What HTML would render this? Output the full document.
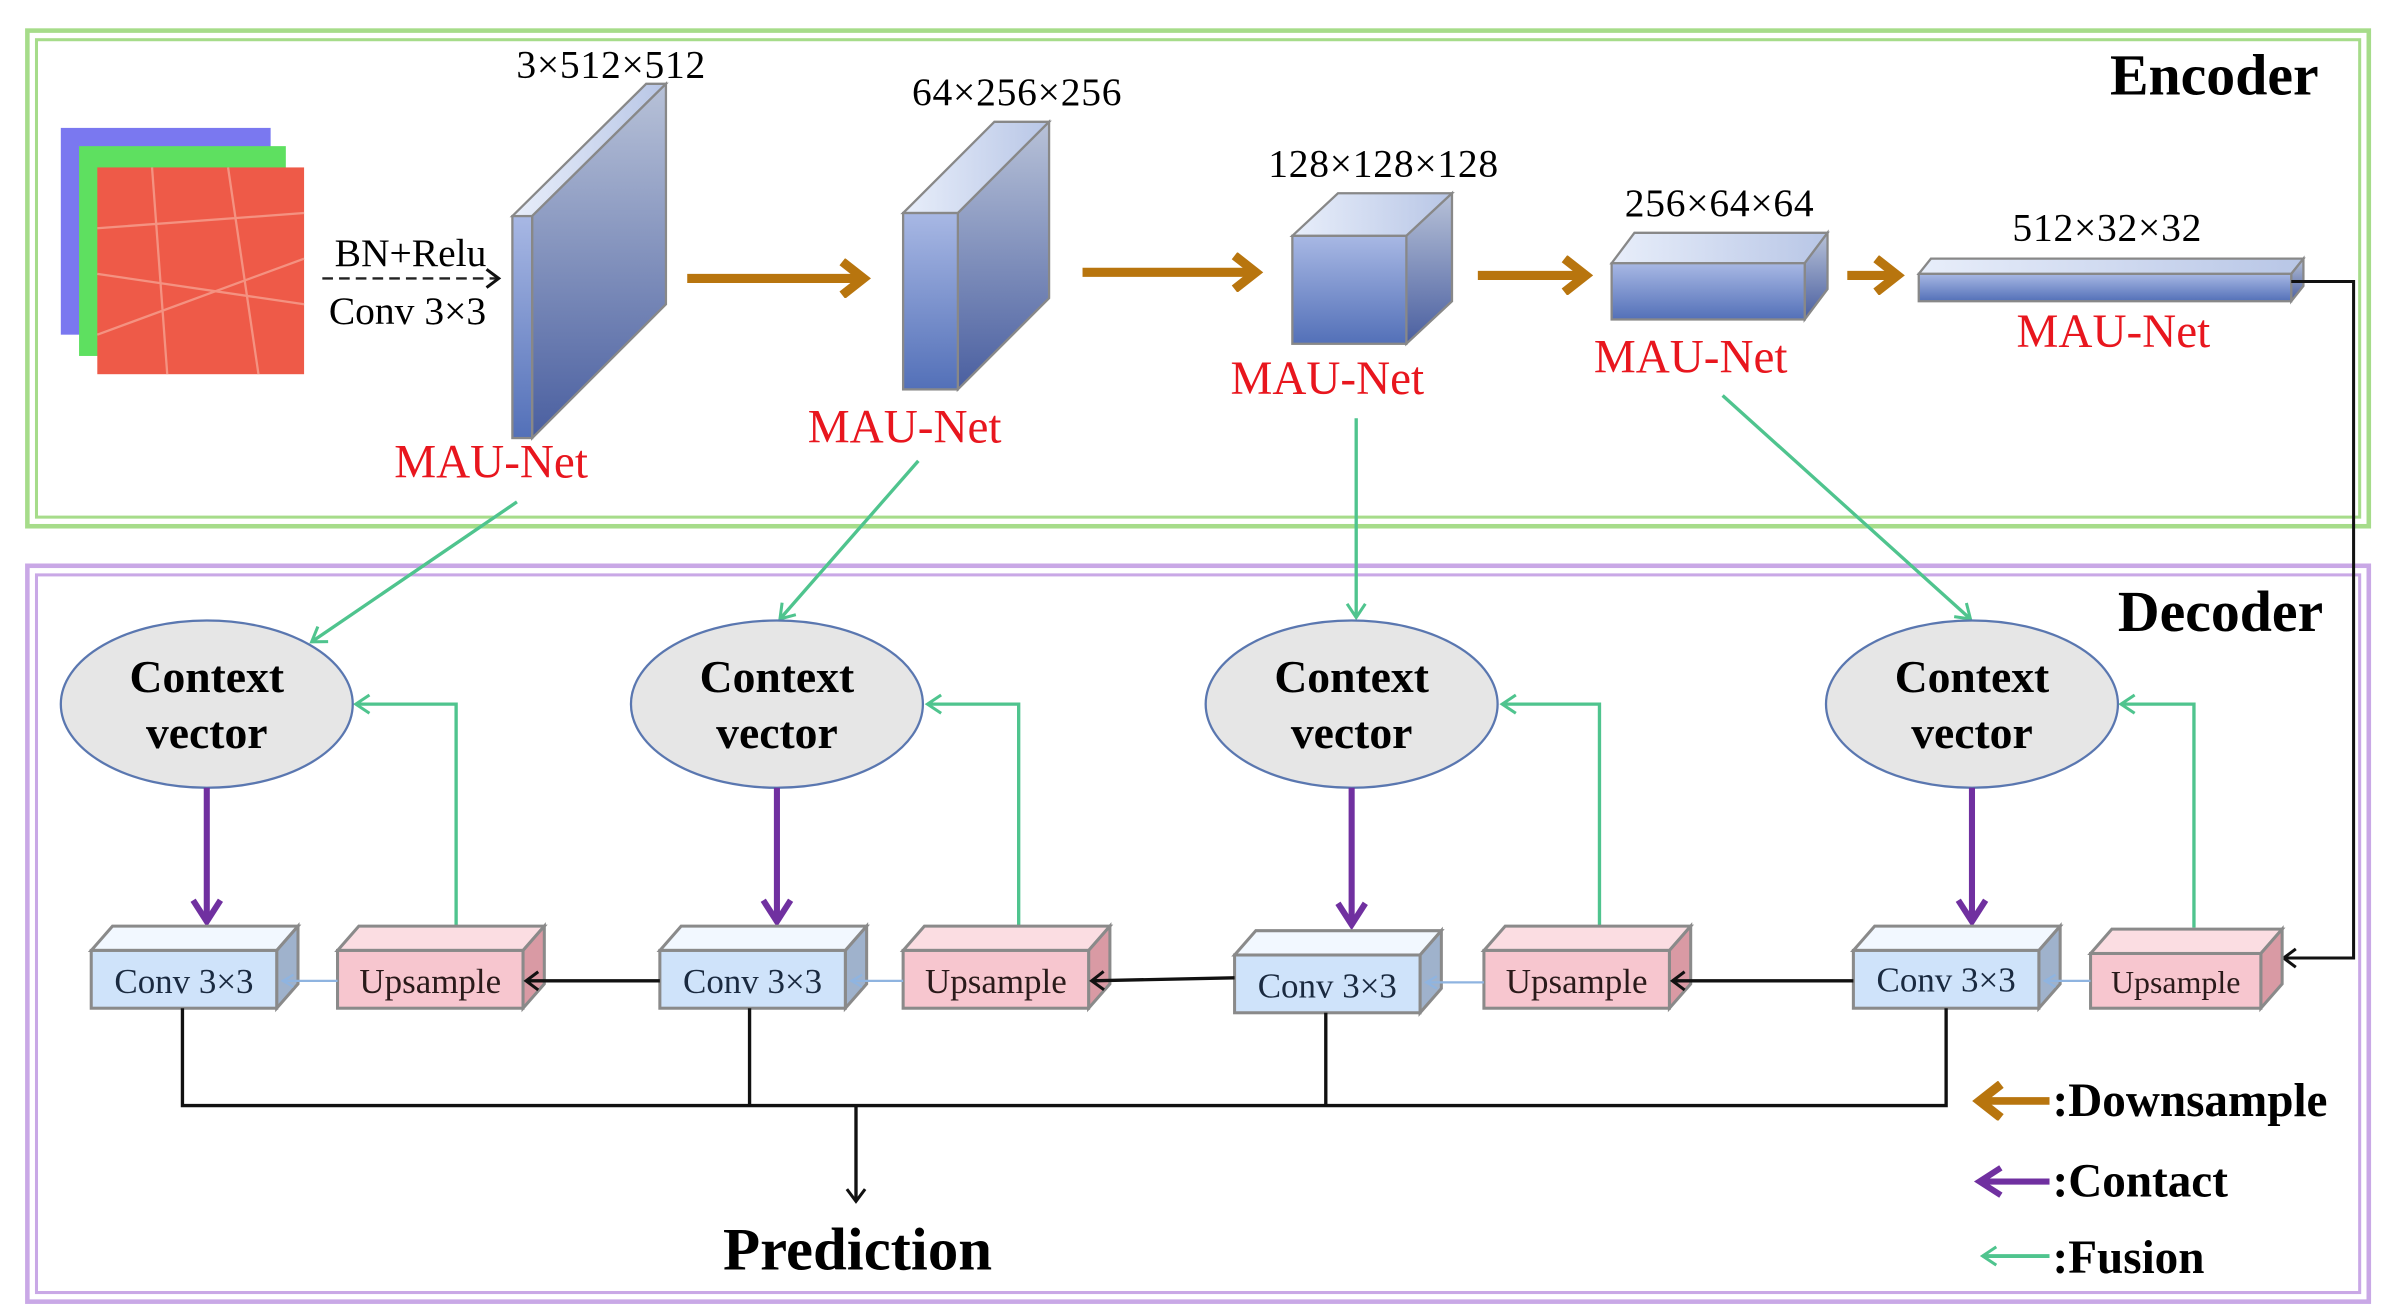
<!DOCTYPE html>
<html><head><meta charset="utf-8"><style>html,body{margin:0;padding:0;background:#fff}svg{display:block}</style></head><body>
<svg width="2384" height="1314" viewBox="0 0 1568 864" xmlns="http://www.w3.org/2000/svg" font-family="Liberation Serif, serif">
<defs>
<linearGradient id="bf" x1="0" y1="0" x2="0" y2="1"><stop offset="0" stop-color="#a8b8e4"/><stop offset="1" stop-color="#5370b8"/></linearGradient>
<linearGradient id="bs" x1="0" y1="0" x2="0" y2="1"><stop offset="0" stop-color="#b8c2d8"/><stop offset="1" stop-color="#4a5fa0"/></linearGradient>
<linearGradient id="bt" x1="0" y1="0" x2="1" y2="0"><stop offset="0" stop-color="#e8eefa"/><stop offset="1" stop-color="#b8c6e6"/></linearGradient>
<marker id="ag" markerWidth="14" markerHeight="14" refX="11" refY="7" orient="auto" markerUnits="userSpaceOnUse"><path d="M2,1 L11,7 L2,13" fill="none" stroke="#4fc48e" stroke-width="2"/></marker>
<marker id="ak" markerWidth="14" markerHeight="14" refX="11" refY="7" orient="auto" markerUnits="userSpaceOnUse"><path d="M3,1 L11,7 L3,13" fill="none" stroke="#111" stroke-width="2"/></marker>
<marker id="ap" markerWidth="22" markerHeight="22" refX="17" refY="11" orient="auto" markerUnits="userSpaceOnUse"><path d="M3,2 L17,11 L3,20" fill="none" stroke="#7030a0" stroke-width="4"/></marker>
<marker id="ao" markerWidth="26" markerHeight="26" refX="20" refY="13" orient="auto" markerUnits="userSpaceOnUse"><path d="M6,2 L20,13 L6,24" fill="none" stroke="#b8750e" stroke-width="6"/></marker>
<marker id="alb" markerWidth="10" markerHeight="10" refX="8" refY="5" orient="auto" markerUnits="userSpaceOnUse"><path d="M1,1 L8,5 L1,9" fill="none" stroke="#8fb4e0" stroke-width="1.5"/></marker>
</defs>
<rect x="18" y="20" width="1540" height="326" fill="none" stroke="#a6dc8a" stroke-width="3"/>
<rect x="24" y="26" width="1528" height="314" fill="none" stroke="#a6dc8a" stroke-width="2"/>
<rect x="18" y="372" width="1540" height="484" fill="none" stroke="#c9a8e6" stroke-width="3"/>
<rect x="24" y="378" width="1528" height="472" fill="none" stroke="#c9a8e6" stroke-width="2"/>
<text x="1525" y="62" font-size="38" font-weight="bold" text-anchor="end">Encoder</text>
<text x="1528" y="415" font-size="38" font-weight="bold" text-anchor="end">Decoder</text>
<rect x="40" y="84" width="138" height="136" fill="#7a78f0"/>
<rect x="52" y="96" width="136" height="138" fill="#5ee060"/>
<rect x="64" y="110" width="136" height="136" fill="#ee5a48"/>
<g stroke="#f6a090" stroke-width="1.5" opacity="0.8"><path d="M64,150 L200,140 M64,180 L200,200 M100,110 L110,246 M150,110 L170,246 M64,220 L200,170"/></g>
<text x="270" y="175" font-size="26" text-anchor="middle">BN+Relu</text>
<line x1="212" y1="183" x2="328" y2="183" stroke="#222" stroke-width="1.6" stroke-dasharray="7,4" marker-end="url(#ak)"/>
<text x="268" y="213" font-size="26" text-anchor="middle">Conv 3×3</text>
<g stroke="#888" stroke-width="1.5">
<polygon points="337,142 350,142 438,55 425,55" fill="url(#bt)"/>
<polygon points="350,142 438,55 438,200 350,288" fill="url(#bs)"/>
<rect x="337" y="142" width="13" height="146" fill="url(#bf)"/>
<polygon points="594,140 630,140 690,80 654,80" fill="url(#bt)"/>
<polygon points="630,140 690,80 690,196 630,256" fill="url(#bs)"/>
<rect x="594" y="140" width="36" height="116" fill="url(#bf)"/>
<polygon points="850,155 925,155 955,127 880,127" fill="url(#bt)"/>
<polygon points="925,155 955,127 955,198 925,226" fill="url(#bs)"/>
<rect x="850" y="155" width="75" height="71" fill="url(#bf)"/>
<polygon points="1060,173 1187,173 1202,153 1075,153" fill="url(#bt)"/>
<polygon points="1187,173 1202,153 1202,190 1187,210" fill="url(#bs)"/>
<rect x="1060" y="173" width="127" height="37" fill="url(#bf)"/>
<polygon points="1262,180 1507,180 1515,170 1270,170" fill="url(#bt)"/>
<polygon points="1507,180 1515,170 1515,188 1507,198" fill="url(#bs)"/>
<rect x="1262" y="180" width="245" height="18" fill="url(#bf)"/>
</g>
<g font-size="26" text-anchor="middle" letter-spacing="0.5">
<text x="402" y="51">3×512×512</text>
<text x="669" y="69">64×256×256</text>
<text x="910" y="116">128×128×128</text>
<text x="1131" y="142">256×64×64</text>
<text x="1386" y="158">512×32×32</text>
</g>
<g font-size="31" fill="#e8161e" text-anchor="middle">
<text x="323" y="314">MAU-Net</text>
<text x="595" y="291">MAU-Net</text>
<text x="873" y="259">MAU-Net</text>
<text x="1112" y="245">MAU-Net</text>
<text x="1390" y="228">MAU-Net</text>
</g>
<g stroke="#b8750e" stroke-width="6" marker-end="url(#ao)">
<line x1="452" y1="183" x2="568" y2="183"/>
<line x1="712" y1="179" x2="826" y2="179"/>
<line x1="972" y1="181" x2="1043" y2="181"/>
<line x1="1215" y1="181" x2="1248" y2="181"/>
</g>
<polyline points="1507,185 1548,185 1548,630 1502,630" fill="none" stroke="#111" stroke-width="2" marker-end="url(#ak)"/>
<g stroke="#4fc48e" stroke-width="2.2" fill="none" marker-end="url(#ag)">
<line x1="340" y1="330" x2="205" y2="422"/>
<line x1="604" y1="303" x2="513" y2="407"/>
<line x1="892" y1="275" x2="892" y2="406"/>
<line x1="1133" y1="260" x2="1296" y2="407"/>
<polyline points="300,610 300,463 234,463"/>
<polyline points="670,610 670,463 610,463"/>
<polyline points="1052,610 1052,463 988,463"/>
<polyline points="1443,610 1443,463 1395,463"/>
</g>
<g fill="#e6e6e6" stroke="#5a77b0" stroke-width="1.5">
<ellipse cx="136" cy="463" rx="96" ry="55"/>
<ellipse cx="511" cy="463" rx="96" ry="55"/>
<ellipse cx="889" cy="463" rx="96" ry="55"/>
<ellipse cx="1297" cy="463" rx="96" ry="55"/>
</g>
<g font-size="30" font-weight="bold" text-anchor="middle">
<text x="136" y="455">Context</text><text x="136" y="492">vector</text>
<text x="511" y="455">Context</text><text x="511" y="492">vector</text>
<text x="889" y="455">Context</text><text x="889" y="492">vector</text>
<text x="1297" y="455">Context</text><text x="1297" y="492">vector</text>
</g>
<g stroke="#7030a0" stroke-width="4" marker-end="url(#ap)">
<line x1="136" y1="518" x2="136" y2="606"/>
<line x1="511" y1="518" x2="511" y2="606"/>
<line x1="889" y1="518" x2="889" y2="608"/>
<line x1="1297" y1="518" x2="1297" y2="606"/>
</g>
<g stroke="#8a8a8a" stroke-width="2">
<g transform="translate(60,625)"><polygon points="0,0 14,-16 136,-16 122,0" fill="#f2f8ff"/><polygon points="122,0 136,-16 136,22 122,38" fill="#9fb2cc"/><rect width="122" height="38" fill="#cfe3fa"/></g>
<g transform="translate(222,625)"><polygon points="0,0 14,-16 136,-16 122,0" fill="#fbdde2"/><polygon points="122,0 136,-16 136,22 122,38" fill="#d99aa4"/><rect width="122" height="38" fill="#f7c6cf"/></g>
<g transform="translate(434,625)"><polygon points="0,0 14,-16 136,-16 122,0" fill="#f2f8ff"/><polygon points="122,0 136,-16 136,22 122,38" fill="#9fb2cc"/><rect width="122" height="38" fill="#cfe3fa"/></g>
<g transform="translate(594,625)"><polygon points="0,0 14,-16 136,-16 122,0" fill="#fbdde2"/><polygon points="122,0 136,-16 136,22 122,38" fill="#d99aa4"/><rect width="122" height="38" fill="#f7c6cf"/></g>
<g transform="translate(812,628)"><polygon points="0,0 14,-16 136,-16 122,0" fill="#f2f8ff"/><polygon points="122,0 136,-16 136,22 122,38" fill="#9fb2cc"/><rect width="122" height="38" fill="#cfe3fa"/></g>
<g transform="translate(976,625)"><polygon points="0,0 14,-16 136,-16 122,0" fill="#fbdde2"/><polygon points="122,0 136,-16 136,22 122,38" fill="#d99aa4"/><rect width="122" height="38" fill="#f7c6cf"/></g>
<g transform="translate(1219,625)"><polygon points="0,0 14,-16 136,-16 122,0" fill="#f2f8ff"/><polygon points="122,0 136,-16 136,22 122,38" fill="#9fb2cc"/><rect width="122" height="38" fill="#cfe3fa"/></g>
<g transform="translate(1375,627)"><polygon points="0,0 14,-16 126,-16 112,0" fill="#fbdde2"/><polygon points="112,0 126,-16 126,20 112,36" fill="#d99aa4"/><rect width="112" height="36" fill="#f7c6cf"/></g>
</g>
<g font-size="23" text-anchor="middle" fill="#1a2a40">
<text x="121" y="653">Conv 3×3</text><text x="283" y="653" fill="#2a1a1a">Upsample</text>
<text x="495" y="653">Conv 3×3</text><text x="655" y="653" fill="#2a1a1a">Upsample</text>
<text x="873" y="656">Conv 3×3</text><text x="1037" y="653" fill="#2a1a1a">Upsample</text>
<text x="1280" y="652">Conv 3×3</text><text x="1431" y="653" fill="#2a1a1a" font-size="21">Upsample</text>
</g>
<g stroke="#8fb4e0" stroke-width="1.5" marker-end="url(#alb)">
<line x1="222" y1="645" x2="186" y2="645"/>
<line x1="594" y1="645" x2="560" y2="645"/>
<line x1="976" y1="646" x2="938" y2="646"/>
<line x1="1375" y1="645" x2="1345" y2="645"/>
</g>
<g stroke="#111" stroke-width="2.2" marker-end="url(#ak)">
<line x1="434" y1="645" x2="346" y2="645"/>
<line x1="812" y1="643" x2="718" y2="645"/>
<line x1="1219" y1="645" x2="1100" y2="645"/>
</g>
<polyline points="120,663 120,727 1280,727 1280,663" fill="none" stroke="#111" stroke-width="2.2"/>
<line x1="493" y1="663" x2="493" y2="727" stroke="#111" stroke-width="2.2"/>
<line x1="872" y1="666" x2="872" y2="727" stroke="#111" stroke-width="2.2"/>
<line x1="563" y1="727" x2="563" y2="790" stroke="#111" stroke-width="2.2" marker-end="url(#ak)"/>
<text x="564" y="835" font-size="40" font-weight="bold" text-anchor="middle">Prediction</text>
<line x1="1348" y1="724" x2="1302" y2="724" stroke="#b8750e" stroke-width="5" marker-end="url(#ao)"/>
<line x1="1348" y1="777" x2="1302" y2="777" stroke="#7030a0" stroke-width="4" marker-end="url(#ap)"/>
<line x1="1348" y1="826" x2="1304" y2="826" stroke="#4fc48e" stroke-width="2.5" marker-end="url(#ag)"/>
<g font-size="31" font-weight="bold">
<text x="1350" y="734">:Downsample</text>
<text x="1350" y="787">:Contact</text>
<text x="1350" y="837">:Fusion</text>
</g>
</svg>
</body></html>
